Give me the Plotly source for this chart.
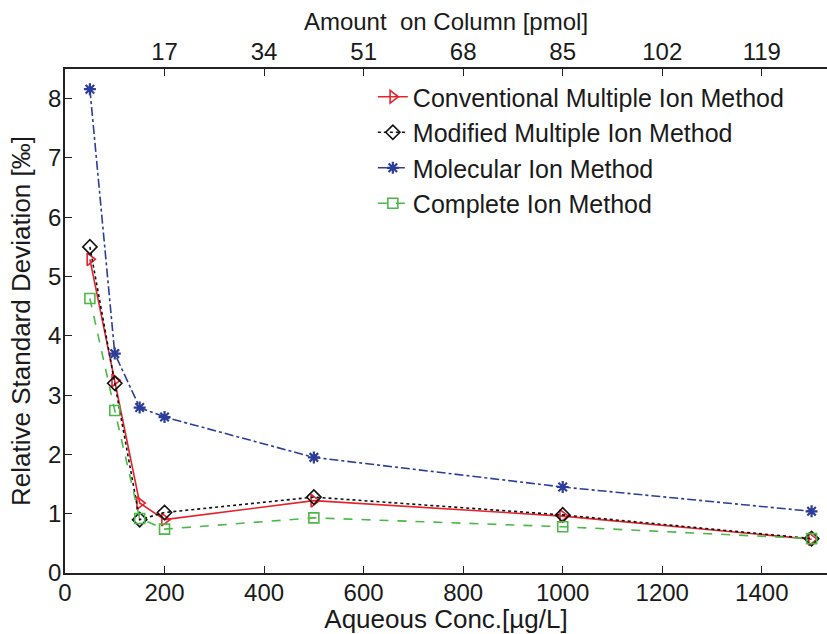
import plotly.graph_objects as go

# Aqueous concentration levels (µg/L)
conc = [50, 100, 150, 200, 500, 1000, 1500]

# Relative standard deviation (‰) for each quantitation method
conventional = [5.29, 3.25, 1.18, 0.90, 1.22, 0.96, 0.57]
modified = [5.50, 3.20, 0.90, 1.02, 1.28, 0.98, 0.58]
molecular = [8.16, 3.70, 2.79, 2.63, 1.95, 1.45, 1.04]
complete = [4.63, 2.74, 0.92, 0.74, 0.93, 0.78, 0.58]

# Secondary axis: amount on column (pmol); 17 pmol corresponds to 200 µg/L
pmol_per_conc = 17 / 200
pmol_ticks = [17, 34, 51, 68, 85, 102, 119]
conc_ticks = [0, 200, 400, 600, 800, 1000, 1200, 1400]
rsd_ticks = [0, 1, 2, 3, 4, 5, 6, 7, 8]

X_MAX = 1531
Y_MAX = 8.5

FONT = "Liberation Sans, Arial, Helvetica, sans-serif"
INK = "#1a1a1a"

fig = go.Figure()

series = [
    ("Conventional Multiple Ion Method", conventional, "#e4232b", "solid",
     "triangle-right-open", 11, 1.6),
    ("Modified Multiple Ion Method", modified, "#111111", "dot",
     "diamond-open", 11, 1.6),
    ("Molecular Ion Method", molecular, "#2b3d98", "dashdot",
     "asterisk-open", 10, 2.2),
    ("Complete Ion Method", complete, "#4cb848", "dash",
     "square-open", 10, 1.6),
]

for name, vals, color, dash, symbol, size, mw in series:
    fig.add_trace(go.Scatter(
        x=conc, y=vals, name=name, mode="lines+markers",
        line=dict(color=color, width=1.6, dash=dash),
        marker=dict(symbol=symbol, size=size, color=color,
                    line=dict(color=color, width=mw)),
    ))

# Invisible trace to anchor the top axis
fig.add_trace(go.Scatter(
    x=[c * pmol_per_conc for c in conc], y=molecular, xaxis="x2",
    mode="markers", marker=dict(opacity=0), showlegend=False,
    hoverinfo="skip",
))

axis_common = dict(
    showline=True, linecolor="#222222", linewidth=1.5,
    ticks="inside", ticklen=7, tickwidth=1.3, tickcolor="#222222",
    showgrid=False, zeroline=False,
    tickfont=dict(family=FONT, size=24, color=INK),
)

fig.update_layout(
    width=827, height=634,
    margin=dict(l=65, r=0, t=69, b=61),
    plot_bgcolor="white", paper_bgcolor="white",
    xaxis=dict(
        range=[0, X_MAX], tickvals=conc_ticks,
        title=dict(text="Aqueous Conc.[µg/L]", standoff=0,
                   font=dict(family=FONT, size=26, color=INK)),
        ticklabelstandoff=-3,
        **axis_common,
    ),
    xaxis2=dict(
        range=[0, X_MAX * pmol_per_conc], tickvals=pmol_ticks,
        overlaying="x", side="top", anchor="y",
        title=dict(text="Amount\u00a0 on Column [pmol]", standoff=0,
                   font=dict(family=FONT, size=24, color=INK)),
        ticklabelstandoff=-2,
        **axis_common,
    ),
    yaxis=dict(
        range=[0, Y_MAX], tickvals=rsd_ticks,
        title=dict(text="Relative Standard Deviation [‰]", standoff=10,
                   font=dict(family=FONT, size=26, color=INK)),
        ticklabelstandoff=-3,
        **axis_common,
    ),
    legend=dict(
        x=0.404, y=0.99, xanchor="left", yanchor="top",
        bgcolor="rgba(0,0,0,0)", borderwidth=0,
        font=dict(family=FONT, size=25, color=INK),
        tracegroupgap=0, itemwidth=30,
    ),
    showlegend=True,
)

fig.write_html("out.html")
